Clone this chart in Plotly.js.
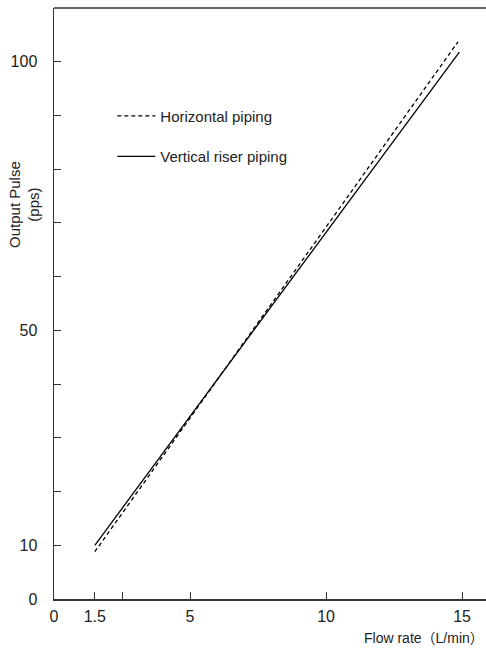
<!DOCTYPE html>
<html>
<head>
<meta charset="utf-8">
<script src="https://cdn.plot.ly/plotly-3.0.1.min.js"></script>
<style>html,body{margin:0;padding:0;background:#fff;}#chart{width:486px;height:649px;}</style>
</head>
<body>
<div id="chart"></div>
<script>
const seriesNames = ["Horizontal piping", "Vertical riser piping"];
const horizontalX = [1.5, 14.85];
const horizontalY = [8.8, 103.7];
const verticalX = [1.5, 14.9];
const verticalY = [10.0, 101.8];
const xTickVals = [0, 1.5, 2.5, 5, 10, 15];
const xTickText = ["0", "1.5", "", "5", "10", "15"];
const yTickVals = [0, 10, 20, 30, 40, 50, 60, 70, 80, 90, 100];
const yTickText = ["0", "10", "", "", "", "50", "", "", "", "", "100"];

const FONT = '"Liberation Sans", Arial, "Noto Sans CJK JP", sans-serif';

const traces = [
  {x: horizontalX, y: horizontalY, mode: 'lines', name: seriesNames[0], legendgroup: 'a',
   line: {color: '#000', width: 1.3, dash: '4px,3px'}},
  {x: verticalX, y: verticalY, mode: 'lines', name: seriesNames[1], legendgroup: 'b',
   line: {color: '#000', width: 1.3}}
];

const layout = {
  width: 486, height: 649,
  margin: {l: 54, r: 0, t: 8, b: 50},
  paper_bgcolor: '#fff', plot_bgcolor: '#fff',
  font: {family: FONT, size: 15, color: '#222'},
  showlegend: true,
  legend: {x: 0.135, y: 0.845, xanchor: 'left', yanchor: 'top', tracegroupgap: 18, itemwidth: 38,
           traceorder: 'grouped', font: {family: FONT, size: 15, color: '#222'}, bgcolor: 'rgba(0,0,0,0)'},
  xaxis: {range: [0, 15.88], tickvals: xTickVals, ticktext: xTickText, ticks: 'inside', ticklen: 7,
          tickcolor: '#333', showline: true, linecolor: '#333', linewidth: 1.5, showgrid: false,
          zeroline: false, tickfont: {size: 16}, ticklabelstandoff: 2},
  yaxis: {range: [0, 110], tickvals: yTickVals, ticktext: yTickText, ticks: 'inside', ticklen: 7,
          tickcolor: '#333', showline: true, linecolor: '#333', linewidth: 1.5, showgrid: false,
          zeroline: false, tickfont: {size: 16}, ticklabelstandoff: 12},
  shapes: [{type: 'line', xref: 'paper', yref: 'paper', x0: 0, x1: 1, y0: 1, y1: 1,
            line: {color: '#333', width: 1.5}}],
  annotations: [
    {text: 'Output Pulse<br>(pps)', xref: 'paper', yref: 'paper', x: -0.07, y: 0.668,
     xanchor: 'center', yanchor: 'middle', textangle: -90, showarrow: false,
     font: {family: FONT, size: 15, color: '#222'}},
    {text: 'Flow rate（L/min）', xref: 'paper', yref: 'paper', x: 0.713, y: -0.066,
     xanchor: 'left', yanchor: 'middle', showarrow: false,
     font: {family: FONT, size: 14, color: '#222'}}
  ]
};

Plotly.newPlot('chart', traces, layout, {displayModeBar: false, staticPlot: true});
</script>
</body>
</html>
